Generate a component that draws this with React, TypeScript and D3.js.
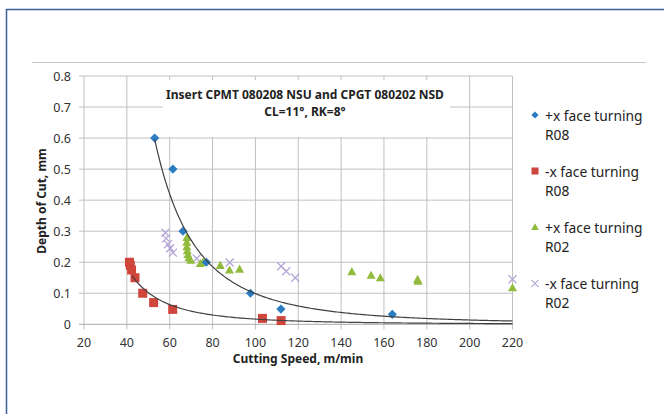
import React from "react";
import * as d3 from "d3";

const xTicks = [20, 40, 60, 80, 100, 120, 140, 160, 180, 200, 220];
const yTicks = [0, 0.1, 0.2, 0.3, 0.4, 0.5, 0.6, 0.7, 0.8];

const plusR08X = [53, 61.5, 66.2, 77.1, 97.7, 111.9, 163.9];
const plusR08Y = [0.6, 0.5, 0.3, 0.2, 0.1, 0.049, 0.032];

const minusR08X = [41.2, 41.6, 42.2, 43.8, 47.4, 52.5, 61.4, 103.3, 112];
const minusR08Y = [0.2, 0.19, 0.175, 0.15, 0.1, 0.07, 0.048, 0.019, 0.012];

const plusR02X = [68, 68, 68, 68.2, 68.5, 69, 69.8, 74.3, 75.5, 83.6, 87.9, 92.6, 145, 154, 158.3, 175.7, 175.9, 220];
const plusR02Y = [0.28, 0.265, 0.25, 0.237, 0.225, 0.215, 0.207, 0.196, 0.2, 0.19, 0.175, 0.178, 0.17, 0.158, 0.15, 0.145, 0.139, 0.118];

const minusR02X = [58, 58.3, 59.2, 60.2, 61.5, 72.6, 88, 112, 114.4, 118.6, 220];
const minusR02Y = [0.295, 0.277, 0.258, 0.245, 0.231, 0.212, 0.199, 0.187, 0.171, 0.15, 0.145];

const legendLabels = ["+x face turning", "-x face turning", "+x face turning", "-x face turning"];
const legendSub = ["R08", "R08", "R02", "R02"];

const titleLines = ["Insert CPMT 080208 NSU and CPGT 080202 NSD", "CL=11°, RK=8°"];

const COLORS = { blue: "#2b7cc1", red: "#d0463d", green: "#92bb3d", purple: "#b3a5d6" };
const FONT = "'Noto Sans', sans-serif";

function powerFit(xs: number[], ys: number[]) {
  const lx = xs.map(Math.log);
  const ly = ys.map(Math.log);
  const mx = d3.mean(lx)!;
  const my = d3.mean(ly)!;
  let sxy = 0, sxx = 0;
  lx.forEach((v, i) => { sxy += (v - mx) * (ly[i] - my); sxx += (v - mx) * (v - mx); });
  const b = sxy / sxx;
  const a = Math.exp(my - b * mx);
  return (x: number) => a * Math.pow(x, b);
}

export default function App() {
  const W = 664, H = 414;
  const x = d3.scaleLinear().domain([20, 220]).range([84, 512.5]);
  const y = d3.scaleLinear().domain([0, 0.8]).range([324.3, 76]);

  const trend = (xs: number[], ys: number[], x0: number, x1: number) => {
    const f = powerFit(xs, ys);
    const pts = d3.range(0, 201).map(i => x0 + (x1 - x0) * i / 200);
    return d3.line<number>().x(v => x(v)).y(v => y(f(v))).curve(d3.curveLinear)(pts)!;
  };

  const diamond = (cx: number, cy: number, r: number) => `M${cx},${cy - r}L${cx + r},${cy}L${cx},${cy + r}L${cx - r},${cy}Z`;
  const tri = (cx: number, cy: number, r: number) => `M${cx},${cy - r}L${cx + r},${cy + r * 0.8}L${cx - r},${cy + r * 0.8}Z`;
  const cross = (cx: number, cy: number, r: number) => `M${cx - r},${cy - r}L${cx + r},${cy + r}M${cx - r},${cy + r}L${cx + r},${cy - r}`;

  const legY = [115, 171, 227, 283.5];

  return (
    <svg width={W} height={H} style={{ position: "absolute", left: 0, top: 0, background: "#fff" }} fontFamily={FONT}>
      <rect x={0} y={0} width={W} height={H} fill="#fff" />
      {/* frame */}
      <path d={`M6.5,${H}V9.5H${W}`} fill="none" stroke="#3d5f96" strokeWidth={1.5} />
      <line x1={32} x2={646} y1={62.5} y2={62.5} stroke="#c9c9c9" strokeWidth={1} />

      {/* grid */}
      {xTicks.map(t => (
        <line key={"gx" + t} x1={x(t)} x2={x(t)} y1={y(0.8)} y2={y(0) + 5} stroke="#c0c0c0" strokeWidth={1} />
      ))}
      {yTicks.map(t => (
        <line key={"gy" + t} x1={x(20) - 5} x2={x(220)} y1={y(t)} y2={y(t)} stroke={t === 0 ? "#a8a8a8" : "#c0c0c0"} strokeWidth={1} />
      ))}

      {/* title box */}
      <rect x={163} y={80} width={287} height={57} fill="#fff" />
      <text x={305} y={94} textAnchor="middle" dominantBaseline="central" fontSize={12} fontWeight="bold" fill="#222">{titleLines[0]}</text>
      <text x={305} y={111.5} textAnchor="middle" dominantBaseline="central" fontSize={12} fontWeight="bold" fill="#222">{titleLines[1]}</text>

      {/* tick labels */}
      {yTicks.map(t => (
        <text key={"ly" + t} x={71} y={y(t)} textAnchor="end" dominantBaseline="central" fontSize={12.5} fill="#333">{t === 0 ? "0" : t.toFixed(1)}</text>
      ))}
      {xTicks.map(t => (
        <text key={"lx" + t} x={x(t)} y={342.5} textAnchor="middle" dominantBaseline="central" fontSize={12.5} fill="#333">{t}</text>
      ))}
      <text x={298} y={358.5} textAnchor="middle" dominantBaseline="central" fontSize={12} fontWeight="bold" fill="#222">Cutting Speed, m/min</text>
      <text transform="translate(41,201) rotate(-90)" textAnchor="middle" dominantBaseline="central" fontSize={12} fontWeight="bold" fill="#222">Depth of Cut, mm</text>

      {/* points */}
      {minusR02X.map((v, i) => (
        <path key={"p4" + i} d={cross(x(v), y(minusR02Y[i]), 4)} stroke={COLORS.purple} strokeWidth={1.2} fill="none" />
      ))}
      {plusR02X.map((v, i) => (
        <path key={"p3" + i} d={tri(x(v), y(plusR02Y[i]), 4.5)} fill={COLORS.green} />
      ))}
      {minusR08X.map((v, i) => (
        <rect key={"p2" + i} x={x(v) - 4.5} y={y(minusR08Y[i]) - 4.5} width={9} height={9} fill={COLORS.red} />
      ))}
      {plusR08X.map((v, i) => (
        <path key={"p1" + i} d={diamond(x(v), y(plusR08Y[i]), 4.6)} fill={COLORS.blue} />
      ))}

      {/* trendlines */}
      <path d={trend(plusR08X, plusR08Y, 53, 220)} fill="none" stroke="#404040" strokeWidth={1.2} />
      <path d={trend(minusR08X, minusR08Y, 42.5, 220)} fill="none" stroke="#404040" strokeWidth={1.2} />

      {/* legend */}
      <path d={diamond(535, legY[0], 3.6)} fill={COLORS.blue} />
      <rect x={531.5} y={legY[1] - 3.5} width={7} height={7} fill={COLORS.red} />
      <path d={tri(535, legY[2], 3.8)} fill={COLORS.green} />
      <path d={cross(535, legY[3], 3.6)} stroke={COLORS.purple} strokeWidth={1.1} fill="none" />
      {legendLabels.map((l, i) => (
        <g key={"lg" + i}>
          <text x={545} y={legY[i]} dominantBaseline="central" fontSize={13.8} fill="#222">{l}</text>
          <text x={545} y={legY[i] + 19.3} dominantBaseline="central" fontSize={13.8} fill="#222">{legendSub[i]}</text>
        </g>
      ))}
    </svg>
  );
}
